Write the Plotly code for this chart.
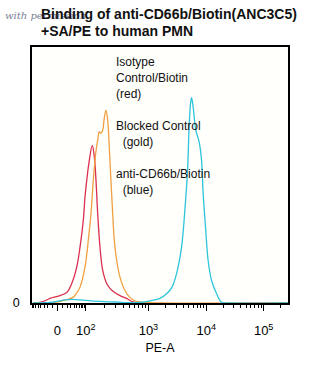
import numpy as np
import plotly.graph_objects as go

# PE-A on a biexponential display scale (decade units: 10^4 -> 4, 10^5 -> ~5)
blue_x = [1.009, 1.302, 1.440, 1.560, 1.699, 1.905, 2.164, 2.423, 2.733, 2.940, 3.026,
          3.199, 3.319, 3.405, 3.486, 3.572, 3.629, 3.676, 3.703, 3.728, 3.745, 3.772,
          3.819, 3.876, 3.917, 3.945, 3.986, 4.031, 4.090, 4.176, 4.262, 4.405, 5.405]
blue_y = [0.0, 0.2, 0.7, 1.2, 1.4, 1.0, 0.6, 0.4, 0.1, 0.4, 0.8,
          1.8, 3.7, 6.1, 11.5, 21.8, 36.2, 51.9, 68.8, 78.1, 80.2, 76.6,
          67.5, 62.9, 55.8, 42.9, 29.7, 16.6, 8.8, 3.7, 0.3, 0.0, 0.0]

gold_x = [1.009, 1.250, 1.440, 1.531, 1.595, 1.704, 1.767, 1.819, 1.905, 1.962, 2.009,
          2.048, 2.090, 2.124, 2.152, 2.176, 2.211, 2.233, 2.267, 2.297, 2.324, 2.353,
          2.383, 2.411, 2.452, 2.509, 2.595, 2.681, 2.768, 2.940, 3.199, 5.405]
gold_y = [0.0, 0.1, 0.4, 1.0, 1.3, 2.3, 4.1, 6.2, 14.0, 24.5, 35.0,
          47.9, 58.5, 63.6, 66.9, 66.3, 67.5, 71.4, 75.3, 71.4, 61.0, 47.9,
          35.0, 24.5, 16.6, 10.1, 4.9, 2.2, 0.8, 0.2, 0.0, 0.0]

red_x = [1.009, 1.164, 1.302, 1.445, 1.590, 1.676, 1.762, 1.819, 1.876, 1.905, 1.935,
         1.980, 2.031, 2.066, 2.095, 2.124, 2.164, 2.211, 2.280, 2.337, 2.393, 2.509,
         2.624, 2.733, 2.853, 5.405]
red_y = [0.0, 0.4, 1.8, 2.7, 4.1, 7.6, 14.0, 21.8, 32.3, 41.4, 47.9,
         55.8, 61.6, 57.1, 47.9, 35.0, 21.8, 12.7, 7.6, 5.7, 4.5, 2.9,
         1.8, 0.4, 0.0, 0.0]

# Axis: intensities of the labelled ticks and their display positions
tick_values = [0, 1e2, 1e3, 1e4, 1e5]
tick_pos = [1.43, 1.92, 3.0, 4.0, 4.99]
tick_text = ["0", "10<sup>2</sup>", "10<sup>3</sup>", "10<sup>4</sup>", "10<sup>5</sup>"]

title_lines = ["Binding of anti-CD66b/Biotin(ANC3C5)", "+SA/PE to human PMN"]
legend_lines = ["Isotype", "Control/Biotin", "(red)", "", "Blocked Control", "  (gold)",
                "", "anti-CD66b/Biotin", "  (blue)"]


def biex(v):
    """Map PE-A intensities onto the display scale (asinh, anchored at the labelled ticks)."""
    g = lambda a: np.arcsinh(np.asarray(a, dtype=float) / 27.0) / np.log(10)
    anchors = np.array([-1e2] + tick_values + [1e6])
    pos = np.array([2 * tick_pos[0] - tick_pos[1]] + tick_pos + [2 * tick_pos[4] - tick_pos[3]])
    return np.interp(g(v), g(anchors), pos)


minor_vals = [-k * 10 for k in range(1, 10)] + [k * 10 for k in range(1, 10)]
for dec in (1e2, 1e3, 1e4, 1e5):
    minor_vals += [k * dec for k in range(2, 10)]
minor_pos = [p for p in biex(minor_vals) if 0.99 <= p <= 5.41]

fig = go.Figure()
for xs, ys, col in [(red_x, red_y, "#dc2f4f"), (gold_x, gold_y, "#f0a040"),
                    (blue_x, blue_y, "#2ec4dc")]:
    fig.add_trace(go.Scatter(x=xs, y=ys, mode="lines", line=dict(color=col, width=1.3),
                             line_shape="spline", hoverinfo="skip", showlegend=False))

W, H = 329, 365
ML, MR, MT, MB = 32, 41, 47, 62
PW, PH = W - ML - MR, H - MT - MB


def px(xp):
    return (xp - ML) / PW


def py(yp):
    return 1 - (yp - MT) / PH


font = "Liberation Sans, Arial, sans-serif"
fig.update_layout(
    width=W, height=H,
    margin=dict(l=ML, r=MR, t=MT, b=MB),
    paper_bgcolor="white", plot_bgcolor="#fffffc",
    font=dict(family=font, color="black", size=12),
    xaxis=dict(
        range=[0.99, 5.41], tickmode="array", tickvals=tick_pos, ticktext=tick_text,
        ticks="outside", ticklen=6, tickwidth=1, tickcolor="black",
        showgrid=False, zeroline=False, showline=True, linecolor="black", linewidth=1.5,
        mirror=True, tickfont=dict(size=13), ticklabelstandoff=9,
        minor=dict(tickvals=minor_pos, ticks="outside", ticklen=3, tickwidth=1,
                   tickcolor="black", showgrid=False),
        title=dict(text="PE-A", font=dict(size=12.5), standoff=6),
    ),
    yaxis=dict(
        range=[0, 100], tickmode="array", tickvals=[0], ticktext=["0"], ticks="",
        showgrid=False, zeroline=False, showline=True, linecolor="black", linewidth=1.5,
        mirror=True, tickfont=dict(size=12.5), ticklabelstandoff=8,
    ),
)

# Faint signature behind the title
fig.add_annotation(xref="paper", yref="paper", x=px(3), y=py(15), text="<i>with permission</i>",
                   showarrow=False, xanchor="left", yanchor="middle",
                   font=dict(family="DejaVu Serif, serif", size=10, color="#4a5670"),
                   opacity=0.75)

for i, line in enumerate(title_lines):
    fig.add_annotation(xref="paper", yref="paper", x=px(39), y=py(14 + 17 * i),
                       xanchor="left", yanchor="middle", text=f"<b>{line}</b>",
                       showarrow=False, font=dict(size=14, color="#111"))

for i, line in enumerate(legend_lines):
    if not line:
        continue
    fig.add_annotation(xref="paper", yref="paper", x=px(114), y=py(62 + 16 * i),
                       xanchor="left", yanchor="middle", text=line.replace(" ", "&nbsp;"),
                       showarrow=False, font=dict(size=12, color="#111"))

fig.write_html("out.html")
